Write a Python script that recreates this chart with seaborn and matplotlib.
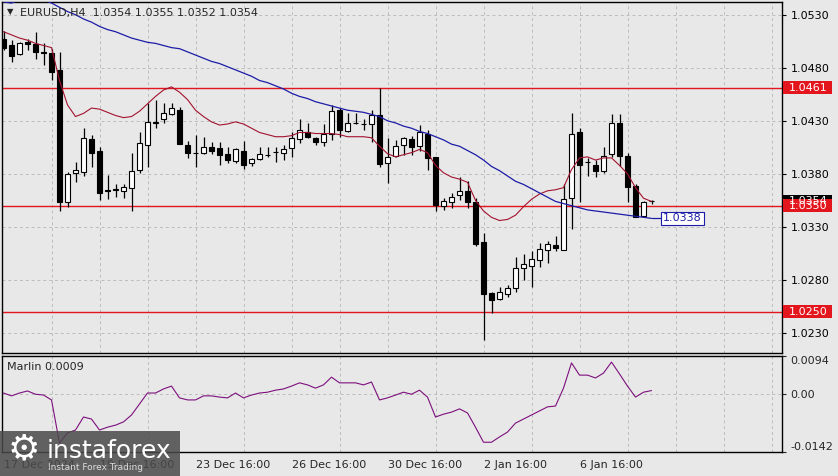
#!/usr/bin/env python3
"""EURUSD H4 chart with two moving averages, levels and the Marlin oscillator."""

import matplotlib
matplotlib.use("Agg")
import matplotlib.pyplot as plt
from matplotlib.patches import Rectangle
import numpy as np
import pandas as pd
import seaborn as sns

# --- data (one value per H4 bar) ---
opens = [
    1.0507, 1.0501, 1.0493, 1.0504, 1.0502, 1.0495, 1.0494, 1.0478, 1.0353, 1.0381,
    1.0382, 1.0413, 1.0402, 1.0365, 1.0366, 1.0364, 1.0367, 1.0384, 1.0407, 1.0428,
    1.0432, 1.0436, 1.0440, 1.0407, 1.0400, 1.0400, 1.0405, 1.0404, 1.0399, 1.0392,
    1.0402, 1.0390, 1.0394, 1.0398, 1.0401, 1.0400, 1.0404, 1.0413, 1.0419, 1.0414,
    1.0410, 1.0418, 1.0440, 1.0420, 1.0428, 1.0427, 1.0427, 1.0435, 1.0390, 1.0397,
    1.0407, 1.0413, 1.0406, 1.0418, 1.0396, 1.0350, 1.0353, 1.0360, 1.0364, 1.0353,
    1.0316, 1.0268, 1.0262, 1.0267, 1.0272, 1.0291, 1.0293, 1.0299, 1.0308, 1.0313,
    1.0308, 1.0357, 1.0419, 1.0391, 1.0388, 1.0383, 1.0399, 1.0428, 1.0397, 1.0369,
    1.0340, 1.0354,
]
highs = [
    1.0515, 1.0506, 1.0504, 1.0507, 1.0514, 1.0503, 1.0498, 1.0495, 1.0382, 1.0391,
    1.0423, 1.0417, 1.0405, 1.0379, 1.0370, 1.0370, 1.0400, 1.0419, 1.0447, 1.0450,
    1.0447, 1.0447, 1.0443, 1.0411, 1.0417, 1.0415, 1.0410, 1.0410, 1.0405, 1.0404,
    1.0411, 1.0395, 1.0405, 1.0405, 1.0405, 1.0407, 1.0419, 1.0432, 1.0428, 1.0415,
    1.0427, 1.0445, 1.0442, 1.0437, 1.0437, 1.0432, 1.0440, 1.0461, 1.0414, 1.0412,
    1.0415, 1.0416, 1.0426, 1.0421, 1.0396, 1.0357, 1.0362, 1.0377, 1.0373, 1.0357,
    1.0324, 1.0269, 1.0273, 1.0275, 1.0302, 1.0304, 1.0307, 1.0315, 1.0317, 1.0321,
    1.0370, 1.0437, 1.0423, 1.0395, 1.0393, 1.0405, 1.0436, 1.0436, 1.0400, 1.0370,
    1.0354, 1.0355,
]
lows = [
    1.0497, 1.0485, 1.0492, 1.0497, 1.0488, 1.0483, 1.0468, 1.0345, 1.0349, 1.0372,
    1.0378, 1.0386, 1.0355, 1.0356, 1.0358, 1.0357, 1.0345, 1.0381, 1.0386, 1.0423,
    1.0428, 1.0435, 1.0408, 1.0395, 1.0386, 1.0399, 1.0399, 1.0388, 1.0390, 1.0390,
    1.0385, 1.0387, 1.0393, 1.0396, 1.0391, 1.0393, 1.0396, 1.0409, 1.0414, 1.0407,
    1.0406, 1.0412, 1.0415, 1.0419, 1.0427, 1.0421, 1.0410, 1.0386, 1.0371, 1.0396,
    1.0398, 1.0398, 1.0402, 1.0384, 1.0345, 1.0346, 1.0348, 1.0355, 1.0348, 1.0312,
    1.0223, 1.0249, 1.0261, 1.0264, 1.0269, 1.0280, 1.0273, 1.0292, 1.0296, 1.0307,
    1.0308, 1.0328, 1.0353, 1.0378, 1.0377, 1.0381, 1.0396, 1.0387, 1.0353, 1.0339,
    1.0339, 1.0352,
]
closes = [
    1.0499, 1.0491, 1.0503, 1.0502, 1.0495, 1.0494, 1.0476, 1.0353, 1.0380, 1.0384,
    1.0414, 1.0400, 1.0362, 1.0364, 1.0365, 1.0368, 1.0383, 1.0409, 1.0429, 1.0429,
    1.0437, 1.0442, 1.0408, 1.0400, 1.0400, 1.0405, 1.0402, 1.0398, 1.0393, 1.0403,
    1.0388, 1.0394, 1.0399, 1.0398, 1.0401, 1.0403, 1.0414, 1.0421, 1.0415, 1.0410,
    1.0418, 1.0439, 1.0421, 1.0428, 1.0428, 1.0427, 1.0435, 1.0389, 1.0396, 1.0406,
    1.0414, 1.0405, 1.0419, 1.0395, 1.0351, 1.0354, 1.0358, 1.0364, 1.0353, 1.0314,
    1.0267, 1.0261, 1.0269, 1.0272, 1.0291, 1.0295, 1.0300, 1.0309, 1.0314, 1.0310,
    1.0356, 1.0418, 1.0388, 1.0391, 1.0383, 1.0397, 1.0428, 1.0397, 1.0368, 1.0339,
    1.0353, 1.0354,
]
ma_fast = [
    1.0514, 1.0511, 1.0508, 1.0506, 1.0503, 1.0501, 1.0499, 1.0468, 1.0445, 1.0434,
    1.0437, 1.0442, 1.0441, 1.0438, 1.0435, 1.0433, 1.0434, 1.0439, 1.0446, 1.0453,
    1.0459, 1.0462, 1.0457, 1.0450, 1.0440, 1.0434, 1.0429, 1.0426, 1.0427, 1.0429,
    1.0427, 1.0423, 1.0419, 1.0417, 1.0415, 1.0415, 1.0416, 1.0419, 1.0419, 1.0418,
    1.0418, 1.0418, 1.0417, 1.0415, 1.0415, 1.0415, 1.0414, 1.0406, 1.0399, 1.0396,
    1.0398, 1.0400, 1.0403, 1.0400, 1.0388, 1.0381, 1.0377, 1.0375, 1.0372, 1.0355,
    1.0345, 1.0339, 1.0336, 1.0337, 1.0341, 1.0349, 1.0356, 1.0361, 1.0364, 1.0365,
    1.0367, 1.0384, 1.0395, 1.0396, 1.0393, 1.0395, 1.0395, 1.0388, 1.0380, 1.0367,
    1.0357, 1.0354,
]
ma_slow = [
    1.0542, 1.0541, 1.0544, 1.0545, 1.0545, 1.0544, 1.0541, 1.0537, 1.0533, 1.0530,
    1.0526, 1.0523, 1.0519, 1.0516, 1.0514, 1.0511, 1.0508, 1.0506, 1.0504, 1.0503,
    1.0501, 1.0499, 1.0498, 1.0495, 1.0492, 1.0489, 1.0486, 1.0484, 1.0481, 1.0478,
    1.0475, 1.0472, 1.0468, 1.0466, 1.0463, 1.0460, 1.0456, 1.0453, 1.0451, 1.0448,
    1.0446, 1.0444, 1.0442, 1.0440, 1.0439, 1.0438, 1.0436, 1.0434, 1.0430, 1.0428,
    1.0425, 1.0423, 1.0420, 1.0418, 1.0415, 1.0412, 1.0408, 1.0406, 1.0402, 1.0398,
    1.0393, 1.0387, 1.0383, 1.0378, 1.0373, 1.0370, 1.0366, 1.0362, 1.0358, 1.0354,
    1.0352, 1.0350, 1.0348, 1.0346, 1.0345, 1.0344, 1.0343, 1.0342, 1.0341, 1.0340,
    1.0339, 1.0338,
]
marlin = [
    0.0003, -0.0004, 0.0003, 0.0008, 0.0000, -0.0002, -0.0014, -0.0120, -0.0095, -0.0088,
    -0.0056, -0.0061, -0.0088, -0.0081, -0.0076, -0.0068, -0.0051, -0.0024, 0.0003, 0.0003,
    0.0013, 0.0020, -0.0009, -0.0014, -0.0014, -0.0004, -0.0004, -0.0007, -0.0009, 0.0003,
    -0.0009, -0.0002, 0.0003, 0.0005, 0.0010, 0.0013, 0.0020, 0.0028, 0.0023, 0.0015,
    0.0023, 0.0042, 0.0028, 0.0028, 0.0028, 0.0023, 0.0030, -0.0014, -0.0009, -0.0002,
    0.0005, 0.0000, 0.0010, -0.0007, -0.0056, -0.0049, -0.0044, -0.0036, -0.0046, -0.0081,
    -0.0118, -0.0118, -0.0105, -0.0093, -0.0071, -0.0061, -0.0051, -0.0041, -0.0031, -0.0029,
    0.0015, 0.0077, 0.0047, 0.0047, 0.0040, 0.0052, 0.0079, 0.0050, 0.0020, -0.0007,
    0.0005, 0.0009,
]

levels = [1.0461, 1.0350, 1.0250]
current_price = 1.0354
price_ticks = [1.0230, 1.0280, 1.0330, 1.0380, 1.0430, 1.0480, 1.0530]
marlin_ticks = [0.0094, 0.0, -0.0142]
marlin_tick_labels = ["0.0094", "0.00", "-0.0142"]
date_pos = [0, 12, 24, 36, 48, 60, 72]
date_labels = ["17 Dec 2024", "19 Dec 16:00", "23 Dec 16:00", "26 Dec 16:00",
               "30 Dec 16:00", "2 Jan 16:00", "6 Jan 16:00"]
grid_pos = list(range(6, 97, 6))

BG = "#e8e8e8"
GRID = "#bcbcbc"
LEVEL_RED = "#e3151d"
FAST_RED = "#a3122e"
SLOW_BLUE = "#1c1ca8"
PURPLE = "#7d0f7d"

W, H = 838, 476


def main():
    sns.set_theme(style="white", rc={"axes.facecolor": BG, "figure.facecolor": BG})
    plt.rcParams["font.family"] = ["DejaVu Sans"]

    df = pd.DataFrame({
        "bar": np.arange(len(opens)),
        "open": opens, "high": highs, "low": lows, "close": closes,
        "fast": ma_fast, "slow": ma_slow, "marlin": marlin,
    })

    fig = plt.figure(figsize=(W / 100, H / 100), dpi=100, facecolor=BG)
    ax = fig.add_axes([2 / W, 1 - 353 / H, 780 / W, 351 / H])
    ax2 = fig.add_axes([2 / W, 1 - 452 / H, 780 / W, 96 / H])

    xlim = (-0.1875, 97.3125)
    for a in (ax, ax2):
        a.set_xlim(*xlim)
        a.set_facecolor(BG)
        for sp in a.spines.values():
            sp.set_color("black")
            sp.set_linewidth(1.0)
            sp.set_visible(True)
    ax.set_ylim(1.02111, 1.05420)
    ax2.set_ylim(-0.0142, 0.0094)

    # grid
    ax.set_xticks(grid_pos)
    ax.tick_params(axis="x", length=0, labelbottom=False)
    ax.grid(True, which="major", color=GRID, ls=(0, (3, 3)), lw=0.7)

    # levels
    for lv in levels:
        ax.axhline(lv, color=LEVEL_RED, lw=1.0, zorder=2)

    # candles
    up = df["close"] >= df["open"]
    ax.vlines(df["bar"], df["low"], df["high"], color="black", lw=0.9, zorder=3)
    ax.bar(df["bar"], df["close"] - df["open"], bottom=df["open"], width=0.65,
           color=np.where(up, "white", "black"), edgecolor="black", linewidth=0.8, zorder=4)

    # moving averages
    sns.lineplot(data=df, x="bar", y="fast", ax=ax, color=FAST_RED, lw=0.8, zorder=5)
    sns.lineplot(data=df, x="bar", y="slow", ax=ax, color=SLOW_BLUE, lw=0.9, zorder=5)
    last = df["bar"].iloc[-1]
    ax.plot([last, last + 1.3], [ma_slow[-1], ma_slow[-1]], color=SLOW_BLUE, lw=0.9, zorder=5)
    ax.text(last + 1.45, ma_slow[-1], f"{ma_slow[-1]:.4f}", color=SLOW_BLUE, fontsize=8,
            ha="left", va="center", zorder=6,
            bbox=dict(boxstyle="square,pad=0.15", fc="white", ec=SLOW_BLUE, lw=0.8))

    # right price axis
    ax.yaxis.tick_right()
    ax.set_yticks(price_ticks)
    ax.set_yticklabels([f"{p:.4f}" for p in price_ticks])
    ax.tick_params(axis="y", labelsize=8, length=3, width=0.8, pad=3, colors="black")
    ax.set_xlabel("")
    ax.set_ylabel("")

    # price tags on the right scale
    ytr = ax.get_yaxis_transform()
    box_h = 0.001225
    tags = [(current_price, "black")] + [(lv, LEVEL_RED) for lv in levels]
    for val, col in tags:
        ax.add_patch(Rectangle((1.001, val - box_h / 2), 49 / 780, box_h, transform=ytr,
                               fc=col, ec="none", clip_on=False, zorder=7))
        ax.text(1.0085, val, f"{val:.4f}", transform=ytr, color="white", fontsize=8,
                ha="left", va="center", clip_on=False, zorder=8)

    # chart header
    fig.text(7 / W, 1 - 12 / H, "\u25bc", fontsize=6, ha="left", va="center")
    fig.text(20 / W, 1 - 13 / H,
             f"EURUSD,H4  {opens[-1]:.4f} {highs[-1]:.4f} {lows[-1]:.4f} {closes[-1]:.4f}",
             fontsize=8, ha="left", va="center")

    # Marlin oscillator
    sns.lineplot(data=df, x="bar", y="marlin", ax=ax2, color=PURPLE, lw=0.8, zorder=4)
    ax2.axhline(0, color=GRID, ls=(0, (3, 3)), lw=0.7, zorder=1)
    ax2.set_xticks(date_pos)
    ax2.set_xticklabels(date_labels)
    for lab in ax2.get_xticklabels():
        lab.set_ha("left")
    ax2.set_xticks(grid_pos, minor=True)
    ax2.tick_params(axis="x", which="major", length=4, width=0.8, pad=2, labelsize=8)
    ax2.tick_params(axis="x", which="minor", length=0)
    ax2.grid(True, which="minor", axis="x", color=GRID, ls=(0, (3, 3)), lw=0.7)
    ax2.grid(False, which="major")
    ax2.yaxis.tick_right()
    ax2.set_yticks(marlin_ticks)
    ax2.set_yticklabels(marlin_tick_labels)
    ax2.tick_params(axis="y", labelsize=8, length=3, width=0.8, pad=3)
    ylabs = ax2.get_yticklabels()
    ylabs[0].set_va("top")
    ylabs[-1].set_va("bottom")
    ax2.set_xlabel("")
    ax2.set_ylabel("")
    ax2.text(0.0064, 0.885, f"Marlin {marlin[-1]:.4f}", transform=ax2.transAxes,
             fontsize=8, ha="left", va="center")

    # watermark
    fig.patches.append(Rectangle((0, 0), 180 / W, 45 / H, transform=fig.transFigure,
                                 fc="#4a4a4a", ec="none", alpha=0.85, zorder=10))
    fig.text(24 / W, 1 - 449 / H, "\u2699", fontsize=26, color="white",
             ha="center", va="center", zorder=11)
    fig.text(47 / W, 1 - 458 / H, "instaforex", fontsize=18, color="white",
             ha="left", va="baseline", zorder=11)
    fig.text(48 / W, 1 - 467 / H, "Instant Forex Trading", fontsize=6.5, color="#dcdcdc",
             ha="left", va="center", zorder=11)

    fig.savefig("out.png", dpi=100, facecolor=BG)
    plt.close(fig)


if __name__ == "__main__":
    main()
